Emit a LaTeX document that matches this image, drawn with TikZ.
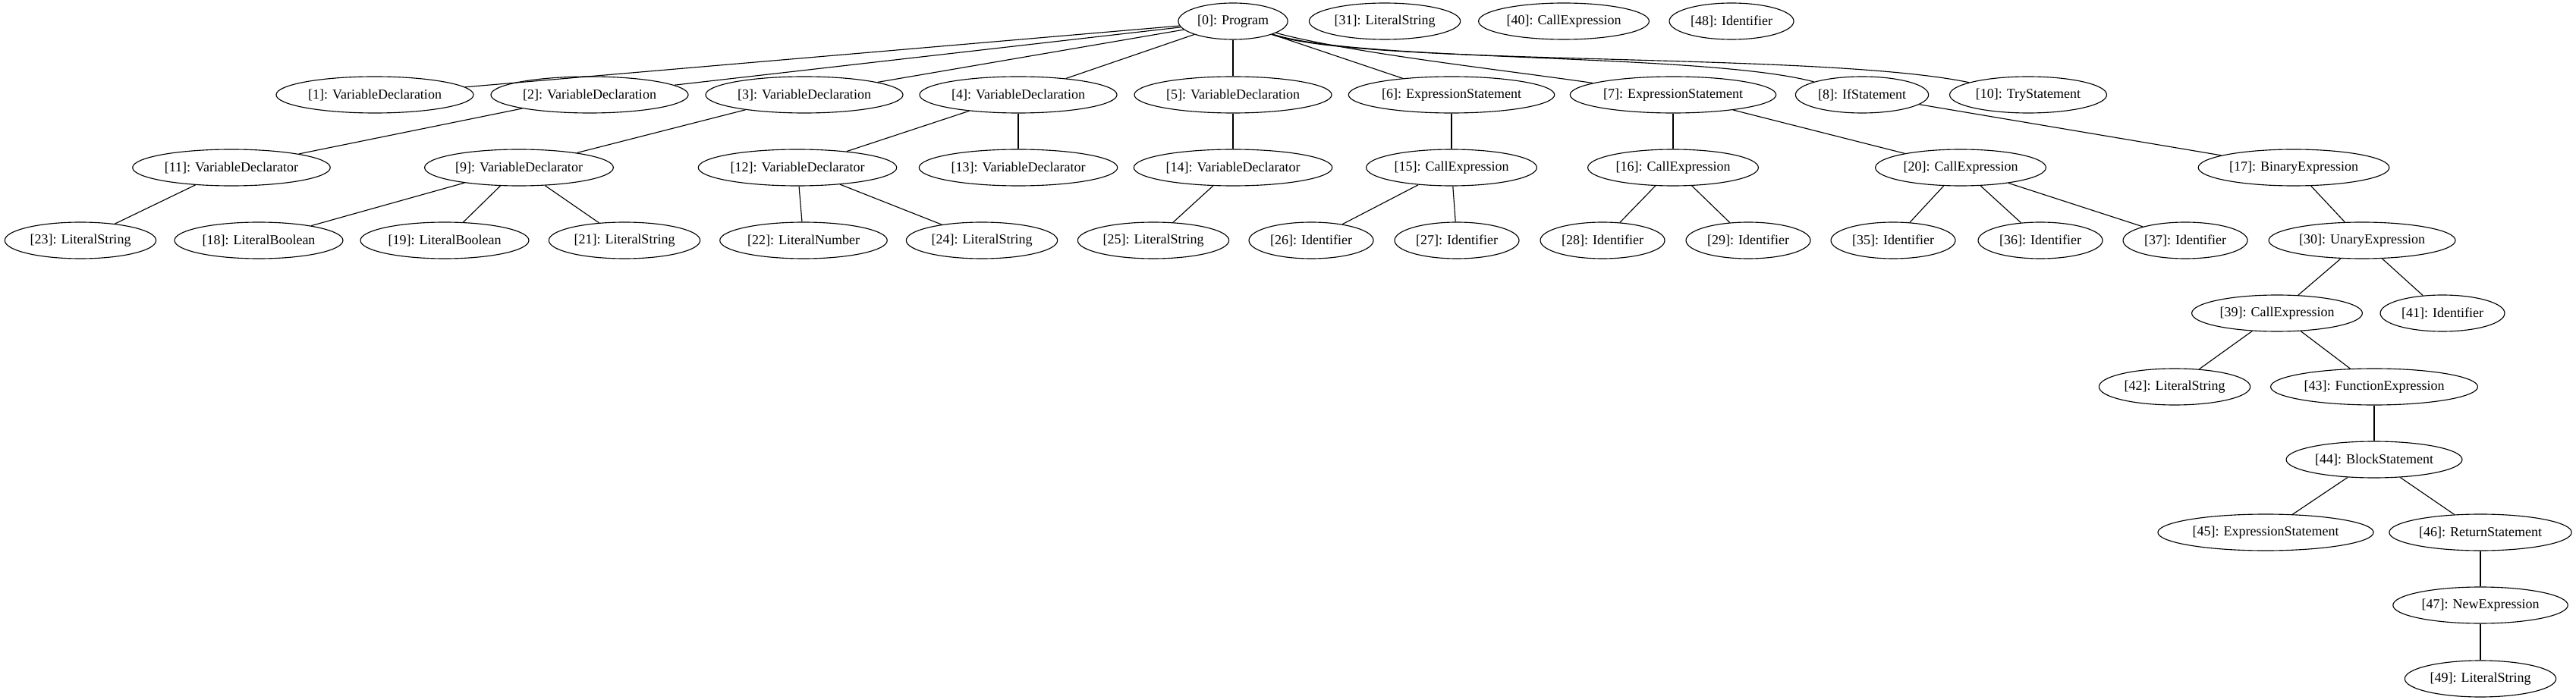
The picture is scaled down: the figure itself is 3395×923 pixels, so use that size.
\documentclass[tikz,border=0pt]{standalone}
\usepackage{fontspec}
\setmainfont{Liberation Serif}
\usetikzlibrary{shapes.geometric}

\begin{document}
\begin{tikzpicture}[x=0.75pt, y=-0.75pt, font=\fontsize{13.5}{16}\selectfont,
  ast/.style={draw, ellipse, line width=0.85pt, inner xsep=3pt, inner ysep=2pt, minimum height=36pt},
  link/.style={line width=0.85pt}]
\useasboundingbox (0,0) rectangle (3395,923);

% ---------------- rank 0: root and loose nodes
\node[ast] (n0)  at (1625,28) {[0]: Program};
\node[ast] (n31) at (1825,28) {[31]: LiteralString};
\node[ast] (n40) at (2061,28) {[40]: CallExpression};
\node[ast] (n48) at (2282,28) {[48]: Identifier};

% ---------------- rank 1
\node[ast] (n1)  at (494,125)  {[1]: VariableDeclaration};
\node[ast] (n2)  at (777,125)  {[2]: VariableDeclaration};
\node[ast] (n3)  at (1060,125) {[3]: VariableDeclaration};
\node[ast] (n4)  at (1342,125) {[4]: VariableDeclaration};
\node[ast] (n5)  at (1625,125) {[5]: VariableDeclaration};
\node[ast] (n6)  at (1913,125) {[6]: ExpressionStatement};
\node[ast] (n7)  at (2205,125) {[7]: ExpressionStatement};
\node[ast] (n8)  at (2454,125) {[8]: IfStatement};
\node[ast] (n10) at (2673,125) {[10]: TryStatement};

% ---------------- rank 2
\node[ast] (n11) at (305,221)  {[11]: VariableDeclarator};
\node[ast] (n9)  at (684,221)  {[9]: VariableDeclarator};
\node[ast] (n12) at (1051,221) {[12]: VariableDeclarator};
\node[ast] (n13) at (1342,221) {[13]: VariableDeclarator};
\node[ast] (n14) at (1625,221) {[14]: VariableDeclarator};
\node[ast] (n15) at (1913,221) {[15]: CallExpression};
\node[ast] (n16) at (2205,221) {[16]: CallExpression};
\node[ast] (n20) at (2584,221) {[20]: CallExpression};
\node[ast] (n17) at (3023,221) {[17]: BinaryExpression};

% ---------------- rank 3
\node[ast] (n23) at (106,317)  {[23]: LiteralString};
\node[ast] (n18) at (341,317)  {[18]: LiteralBoolean};
\node[ast] (n19) at (586,317)  {[19]: LiteralBoolean};
\node[ast] (n21) at (823,317)  {[21]: LiteralString};
\node[ast] (n22) at (1059,317) {[22]: LiteralNumber};
\node[ast] (n24) at (1294,317) {[24]: LiteralString};
\node[ast] (n25) at (1520,317) {[25]: LiteralString};
\node[ast] (n26) at (1728,317) {[26]: Identifier};
\node[ast] (n27) at (1920,317) {[27]: Identifier};
\node[ast] (n28) at (2112,317) {[28]: Identifier};
\node[ast] (n29) at (2304,317) {[29]: Identifier};
\node[ast] (n35) at (2495,317) {[35]: Identifier};
\node[ast] (n36) at (2689,317) {[36]: Identifier};
\node[ast] (n37) at (2880,317) {[37]: Identifier};
\node[ast] (n30) at (3113,317) {[30]: UnaryExpression};

% ---------------- ranks 4 to 9, right branch
\node[ast] (n39) at (3001,413) {[39]: CallExpression};
\node[ast] (n41) at (3219,413) {[41]: Identifier};
\node[ast] (n42) at (2866,510) {[42]: LiteralString};
\node[ast] (n43) at (3129,510) {[43]: FunctionExpression};
\node[ast] (n44) at (3129,606) {[44]: BlockStatement};
\node[ast] (n45) at (2986,702) {[45]: ExpressionStatement};
\node[ast] (n46) at (3269,702) {[46]: ReturnStatement};
\node[ast] (n47) at (3269,798) {[47]: NewExpression};
\node[ast] (n49) at (3269,895) {[49]: LiteralString};

% ---------------- edges
\draw[link] (n0) -- (n1);
\draw[link] (n0) -- (n2);
\draw[link] (n0) -- (n3);
\draw[link] (n0) -- (n4);
\draw[link] (n0) -- (n5);
\draw[link] (n0) -- (n6);
\draw[link] (n0) .. controls (1780,70) and (1980,92) .. (n7);
\draw[link] (n0) .. controls (1790,82) and (2250,70) .. (n8);
\draw[link] (n0) .. controls (1800,88) and (2400,68) .. (n10);
\draw[link] (n2) -- (n11);
\draw[link] (n3) -- (n9);
\draw[link] (n4) -- (n12);
\draw[link] (n4) -- (n13);
\draw[link] (n5) -- (n14);
\draw[link] (n6) -- (n15);
\draw[link] (n7) -- (n16);
\draw[link] (n7) -- (n20);
\draw[link] (n8) -- (n17);
\draw[link] (n11) -- (n23);
\draw[link] (n9) -- (n18);
\draw[link] (n9) -- (n19);
\draw[link] (n9) -- (n21);
\draw[link] (n12) -- (n22);
\draw[link] (n12) -- (n24);
\draw[link] (n14) -- (n25);
\draw[link] (n15) -- (n26);
\draw[link] (n15) -- (n27);
\draw[link] (n16) -- (n28);
\draw[link] (n16) -- (n29);
\draw[link] (n20) -- (n35);
\draw[link] (n20) -- (n36);
\draw[link] (n20) -- (n37);
\draw[link] (n17) -- (n30);
\draw[link] (n30) -- (n39);
\draw[link] (n30) -- (n41);
\draw[link] (n39) -- (n42);
\draw[link] (n39) -- (n43);
\draw[link] (n43) -- (n44);
\draw[link] (n44) -- (n45);
\draw[link] (n44) -- (n46);
\draw[link] (n46) -- (n47);
\draw[link] (n47) -- (n49);
\end{tikzpicture}
\end{document}
